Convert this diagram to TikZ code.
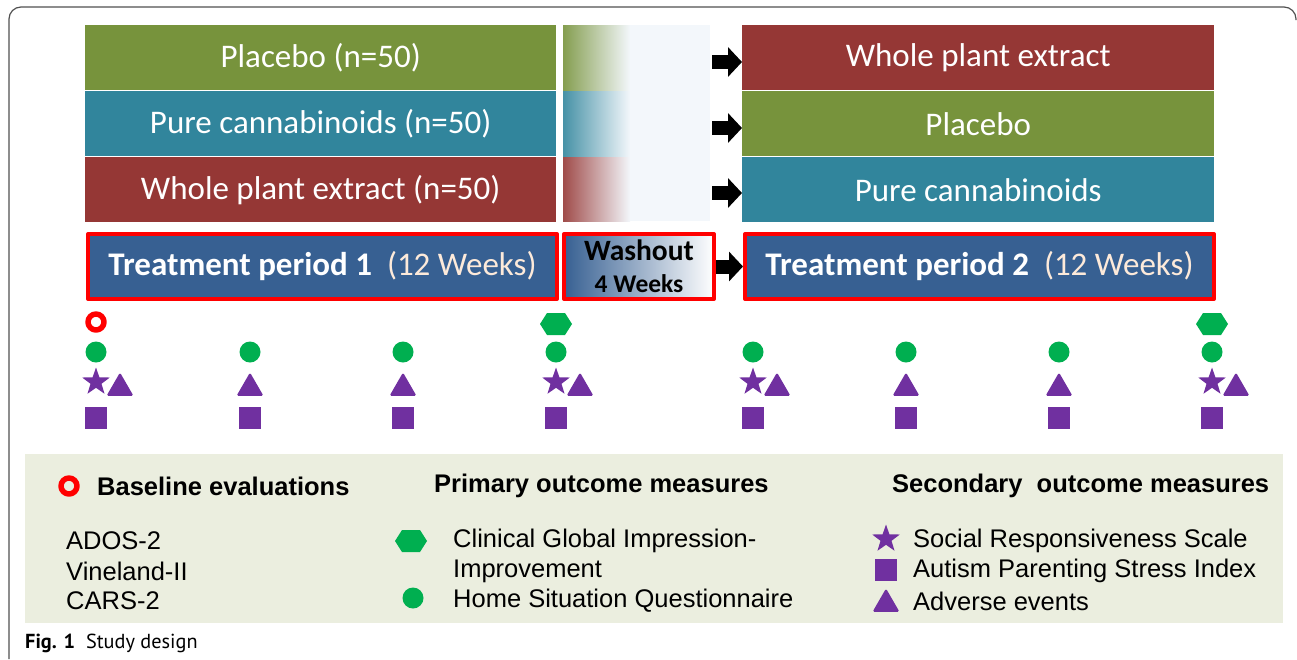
\documentclass[tikz,border=0pt]{standalone}
\usepackage{fontspec}
\setmainfont{Carlito}
\newfontfamily\legfont{Liberation Sans}
\newfontfamily\capfont{PT Sans}
\usetikzlibrary{arrows.meta,shapes.geometric,positioning}

\definecolor{armgreen}{HTML}{77933C}
\definecolor{armteal}{HTML}{31859C}
\definecolor{armred}{HTML}{953735}
\definecolor{periodblue}{HTML}{376092}
\definecolor{washmid}{HTML}{B9CCE4}
\definecolor{fadebg}{HTML}{F3F7FB}
\definecolor{weekcol}{HTML}{FDEADA}
\definecolor{dotgreen}{HTML}{00AF50}
\definecolor{markpurple}{HTML}{7030A0}
\definecolor{legendbg}{HTML}{EBEEDF}
\definecolor{framegray}{HTML}{505050}

\begin{document}
\begin{tikzpicture}[
    x=1pt, y=-1pt,
    line join=round,
    font=\fontsize{33}{36}\selectfont,
    arm/.style={fill=#1, text=white, anchor=north west, inner sep=0pt,
        minimum height=65pt},
    period/.style={draw=red, line width=4pt, anchor=north west, inner sep=0pt,
        minimum height=65pt},
    blockarr/.style={-{Triangle[length=14pt,width=29pt]}, line width=14pt, black},
    dot/.style={circle, fill=dotgreen, minimum size=21pt, inner sep=0pt},
    ring/.style={circle, draw=red, line width=5.5pt, minimum size=16pt, inner sep=0pt},
    starmark/.style={star, star points=5, star point ratio=2.5, fill=markpurple,
        minimum size=29pt, inner sep=0pt},
    trimark/.style={regular polygon, regular polygon sides=3, fill=markpurple,
        minimum size=31pt, inner sep=0pt, rounded corners=1.5pt},
    sqmark/.style={rectangle, fill=markpurple, minimum size=22pt, inner sep=0pt},
    hexmark/.pic={\fill[dotgreen] (-16,0) -- (-9,-11) -- (9,-11) -- (16,0)
        -- (9,11) -- (-9,11) -- cycle;},
    headtxt/.style={anchor=west, inner sep=0pt,
        font=\legfont\bfseries\fontsize{25.5}{28}\selectfont},
    itemtxt/.style={anchor=west, inner sep=0pt,
        font=\legfont\fontsize{25.5}{28}\selectfont}
]

\useasboundingbox (0,0) rectangle (1297,659);

% ======================================
% parameters
% ======================================
\def\armL{85}      % left arms, x
\def\armR{742}     % right arms, x
\def\armW{471}     % arm width

% outer frame
\draw[framegray, line width=1.2pt, rounded corners=12pt]
    (9,659) -- (9,7) -- (1296,7) -- (1296,20);

% ======================================
% period 1 arms
% ======================================
\node[arm=armgreen, minimum width=\armW pt] (l1) at (\armL,25) {Placebo (n=50)};
\node[arm=armteal,  minimum width=\armW pt] (l2) at (\armL,91) {Pure cannabinoids (n=50)};
\node[arm=armred,   minimum width=\armW pt] (l3) at (\armL,157) {Whole plant extract (n=50)};

% ======================================
% washout fade
% ======================================
\fill[fadebg] (563,25) rectangle (710,221);
\shade[left color=armgreen!90, right color=fadebg] (563,25) rectangle (630,90);
\shade[left color=armteal!90,  right color=fadebg] (563,91) rectangle (630,156);
\shade[left color=armred!90,   right color=fadebg] (563,157) rectangle (630,221);

% ======================================
% period 2 arms (crossover)
% ======================================
\node[arm=armred,   minimum width=472pt] (r1) at (\armR,25) {Whole plant extract};
\node[arm=armgreen, minimum width=472pt] (r2) at (\armR,91) {Placebo};
\node[arm=armteal,  minimum width=472pt] (r3) at (\armR,157) {Pure cannabinoids};

\coordinate (a1) at (712,62);
\coordinate (a2) at (712,128);
\coordinate (a3) at (712,193);
\draw[blockarr] (a1) -- (a1 -| r1.west);
\draw[blockarr] (a2) -- (a2 -| r2.west);
\draw[blockarr] (a3) -- (a3 -| r3.west);

% ======================================
% periods
% ======================================
\node[period, fill=periodblue, text=white, minimum width=469pt] (tp1) at (86,232)
    {\textbf{Treatment period 1}\ \ \textcolor{weekcol}{(12 Weeks)}};
\node[period, left color=periodblue, middle color=washmid, right color=white,
    minimum width=150pt, align=center, font=\bfseries\fontsize{29.5}{32}\selectfont]
    (wash) at (562,232)
    {Washout\\{\fontsize{25.5}{32}\selectfont 4 Weeks}};
\node[period, fill=periodblue, text=white, minimum width=469pt] (tp2) at (743,232)
    {\textbf{Treatment period 2}\ \ \textcolor{weekcol}{(12 Weeks)}};
\draw[blockarr] (wash.east) -- (tp2.west);

% ======================================
% assessment visits
% ======================================
\node[ring] (base) at (96,322) {};
\pic (hex1) at (556,324) {hexmark};
\pic (hex2) at (1212,324) {hexmark};

\foreach \cx/\sr [count=\i] in {96/1,250/0,403/0,556/1,753/1,906/0,1059/0,1212/1}{
    \node[dot] (v\i) at (\cx,352) {};
    \node[sqmark] (s\i) at (\cx,418) {};
    \ifnum\sr=1
        \node[starmark] (st\i) at (\cx,382) {};
        \node[trimark] (t\i) at (\cx+24,388) {};
    \else
        \node[trimark] (t\i) at (\cx,388) {};
    \fi
}

% ======================================
% legend
% ======================================
\fill[legendbg] (25,454) rectangle (1283,623);

\node[ring] (lgring) at (69,486) {};
\node[headtxt] (lgbase) at (97,486) {Baseline evaluations};
\node[itemtxt] (ados) at (66,541) {ADOS-2};
\node[itemtxt] (vine) at (66,571) {Vineland-II};
\node[itemtxt] (cars) at (66,601) {CARS-2};

\node[headtxt] (lgprim) at (434,486) {Primary outcome measures};
\pic (lghex) at (411,541) {hexmark};
\node[itemtxt] (cgi) at (453,541) {Clinical Global Impression-};
\node[itemtxt] (cgi2) at (453,571) {Improvement};
\node[dot] (lgdot) at (413,598) {};
\node[itemtxt] (hsq) at (453,601) {Home Situation Questionnaire};

\node[headtxt] (lgsec) at (892,486) {Secondary\ \ outcome measures};
\node[starmark] (lgstar) at (886,539) {};
\node[itemtxt] (srs) at (913,541) {Social Responsiveness Scale};
\node[sqmark] (lgsq) at (886,570) {};
\node[itemtxt] (apsi) at (913,571) {Autism Parenting Stress Index};
\node[trimark] (lgtri) at (886,604) {};
\node[itemtxt] (ae) at (913,601) {Adverse events};

% caption
\node[anchor=west, inner sep=0pt, font=\capfont\fontsize{20.3}{22}\selectfont] (cap)
    at (25,643) {\textbf{Fig. 1}\ \ Study design};

\end{tikzpicture}
\end{document}
